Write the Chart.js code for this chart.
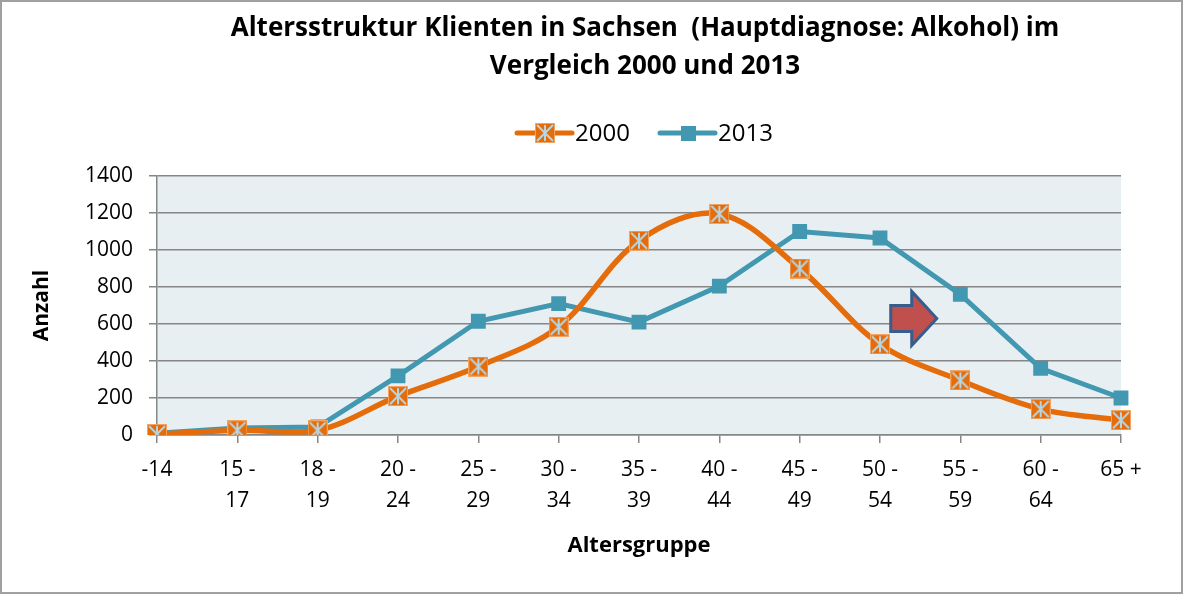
<!DOCTYPE html>
<html>
<head>
<meta charset="utf-8">
<script src="https://cdn.jsdelivr.net/npm/chart.js@4"></script>
<style>
  html, body { margin: 0; padding: 0; background: #fff; }
  canvas { display: block; }
</style>
</head>
<body>
<canvas id="chart" width="1183" height="594"></canvas>
<script>
// Altersgruppen (x axis), two-line labels like in the original
const ageGroups = [['-14'], ['15 -', '17'], ['18 -', '19'], ['20 -', '24'], ['25 -', '29'], ['30 -', '34'],
    ['35 -', '39'], ['40 -', '44'], ['45 -', '49'], ['50 -', '54'], ['55 -', '59'], ['60 -', '64'], ['65 +']];
const values2000 = [5, 25, 25, 210, 370, 585, 1050, 1195, 900, 490, 295, 140, 80];
const values2013 = [10, 38, 43, 320, 615, 710, 610, 805, 1100, 1065, 760, 360, 200];
const yTicks = [0, 200, 400, 600, 800, 1000, 1200, 1400];
const titleLines = ['Altersstruktur Klienten in Sachsen  (Hauptdiagnose: Alkohol) im', 'Vergleich 2000 und 2013'];

const FONT = '"Open Sans", sans-serif';
const orange = '#E46C0A';
const teal = '#4198B0';

// orange square with light blue star, like the excel marker
function makeStarMarker(size) {
    let c = document.createElement('canvas');
    c.width = size; c.height = size;
    let g = c.getContext('2d');
    g.fillStyle = orange;
    g.fillRect(0, 0, size, size);
    g.strokeStyle = '#F4A460';
    g.lineWidth = 1;
    g.strokeRect(0.5, 0.5, size - 1, size - 1);
    g.strokeStyle = '#B7D6E2';
    g.lineWidth = 2;
    let m = size / 2, r = size / 2 - 2;
    g.beginPath();
    g.moveTo(m, 2); g.lineTo(m, size - 2);
    g.moveTo(m - r, m - r); g.lineTo(m + r, m + r);
    g.moveTo(m + r, m - r); g.lineTo(m - r, m + r);
    g.stroke();
    return c;
}
const starMarker = makeStarMarker(20);

const plotBg = {
    id: 'plotBg',
    beforeDraw(chart) {
        const { ctx, chartArea: a } = chart;
        ctx.save();
        ctx.fillStyle = '#E8EFF3';
        ctx.fillRect(a.left, a.top, a.right - a.left, a.bottom - a.top);
        ctx.restore();
    }
};

// title, legend, arrow and frame
const decorations = {
    id: 'decorations',
    afterDraw(chart) {
        const { ctx, chartArea: a } = chart;
        const cx = (a.left + a.right) / 2 + 6;
        ctx.save();
        ctx.fillStyle = '#000';
        ctx.textAlign = 'center';
        ctx.textBaseline = 'middle';
        ctx.font = 'bold 26px ' + FONT;
        ctx.fillText(titleLines[0], cx, 29);
        ctx.fillText(titleLines[1], cx, 67);

        // legend
        ctx.font = '24px ' + FONT;
        ctx.textAlign = 'left';
        const ly = 133;
        let x = 517;
        [[orange, '2000', true], [teal, '2013', false]].forEach(([clr, txt, star]) => {
            ctx.strokeStyle = clr;
            ctx.lineWidth = 5;
            ctx.lineCap = 'round';
            ctx.beginPath();
            ctx.moveTo(x, ly); ctx.lineTo(x + 55, ly);
            ctx.stroke();
            if (star) {
                ctx.drawImage(starMarker, x + 18, ly - 10);
            } else {
                ctx.fillStyle = clr;
                ctx.fillRect(x + 21, ly - 7, 15, 15);
            }
            ctx.fillStyle = '#000';
            ctx.fillText(txt, x + 58, ly + 1);
            x += 143;
        });

        // arrow between 50-54 and 55-59
        const xs = chart.scales.x, ys = chart.scales.y;
        const ax = xs.getPixelForValue(9.42), ay = ys.getPixelForValue(630);
        ctx.beginPath();
        ctx.moveTo(ax - 23, ay - 13);
        ctx.lineTo(ax - 2, ay - 13);
        ctx.lineTo(ax - 2, ay - 27);
        ctx.lineTo(ax + 23, ay);
        ctx.lineTo(ax - 2, ay + 27);
        ctx.lineTo(ax - 2, ay + 13);
        ctx.lineTo(ax - 23, ay + 13);
        ctx.closePath();
        ctx.fillStyle = '#C0504D';
        ctx.fill();
        ctx.strokeStyle = '#385D8A';
        ctx.lineWidth = 3;
        ctx.lineJoin = 'miter';
        ctx.stroke();

        // chart frame
        ctx.strokeStyle = '#A0A0A0';
        ctx.lineWidth = 2;
        ctx.strokeRect(1, 1, chart.width - 2, chart.height - 2);
        ctx.restore();
    }
};

new Chart(document.getElementById('chart'), {
    type: 'line',
    data: {
        labels: ageGroups,
        datasets: [{
            label: '2000',
            data: values2000,
            borderColor: orange,
            backgroundColor: orange,
            borderWidth: 5.5,
            tension: 0.35,
            pointStyle: starMarker,
            pointRadius: 10
        }, {
            label: '2013',
            data: values2013,
            borderColor: teal,
            backgroundColor: teal,
            borderWidth: 5,
            tension: 0,
            pointStyle: 'rect',
            pointRadius: 10.5,
            pointBorderWidth: 0
        }]
    },
    options: {
        responsive: false,
        animation: false,
        layout: {
            padding: { top: 176, left: 0, right: 62, bottom: 0 }
        },
        plugins: {
            legend: { display: false },
            title: { display: false },
            tooltip: { enabled: false }
        },
        scales: {
            x: {
                offset: false,
                afterFit: axis => { axis.height = 159; },
                grid: {
                    drawOnChartArea: false,
                    drawTicks: true,
                    tickLength: 8,
                    color: '#868686',
                    lineWidth: 1.5
                },
                border: { color: '#868686', width: 1.5 },
                ticks: {
                    color: '#000',
                    font: { family: FONT, size: 21, lineHeight: 1.48 },
                    padding: 11,
                    maxRotation: 0,
                    autoSkip: false
                },
                title: {
                    display: true,
                    text: 'Altersgruppe',
                    color: '#000',
                    font: { family: FONT, size: 22, weight: 'bold' },
                    padding: { bottom: 35 }
                }
            },
            y: {
                min: 0,
                max: 1400,
                afterFit: axis => { axis.width = 157; },
                afterBuildTicks: axis => { axis.ticks = yTicks.map(v => ({ value: v })); },
                grid: {
                    color: '#868686',
                    lineWidth: 1.5,
                    tickLength: 8
                },
                border: { color: '#868686', width: 1.5 },
                ticks: {
                    color: '#000',
                    font: { family: FONT, size: 21 },
                    padding: 16,
                    callback: v => String(v)
                },
                title: {
                    display: true,
                    text: 'Anzahl',
                    color: '#000',
                    font: { family: FONT, size: 21, weight: 'bold' },
                    padding: { top: 29 }
                }
            }
        }
    },
    plugins: [plotBg, decorations]
});
</script>
</body>
</html>
